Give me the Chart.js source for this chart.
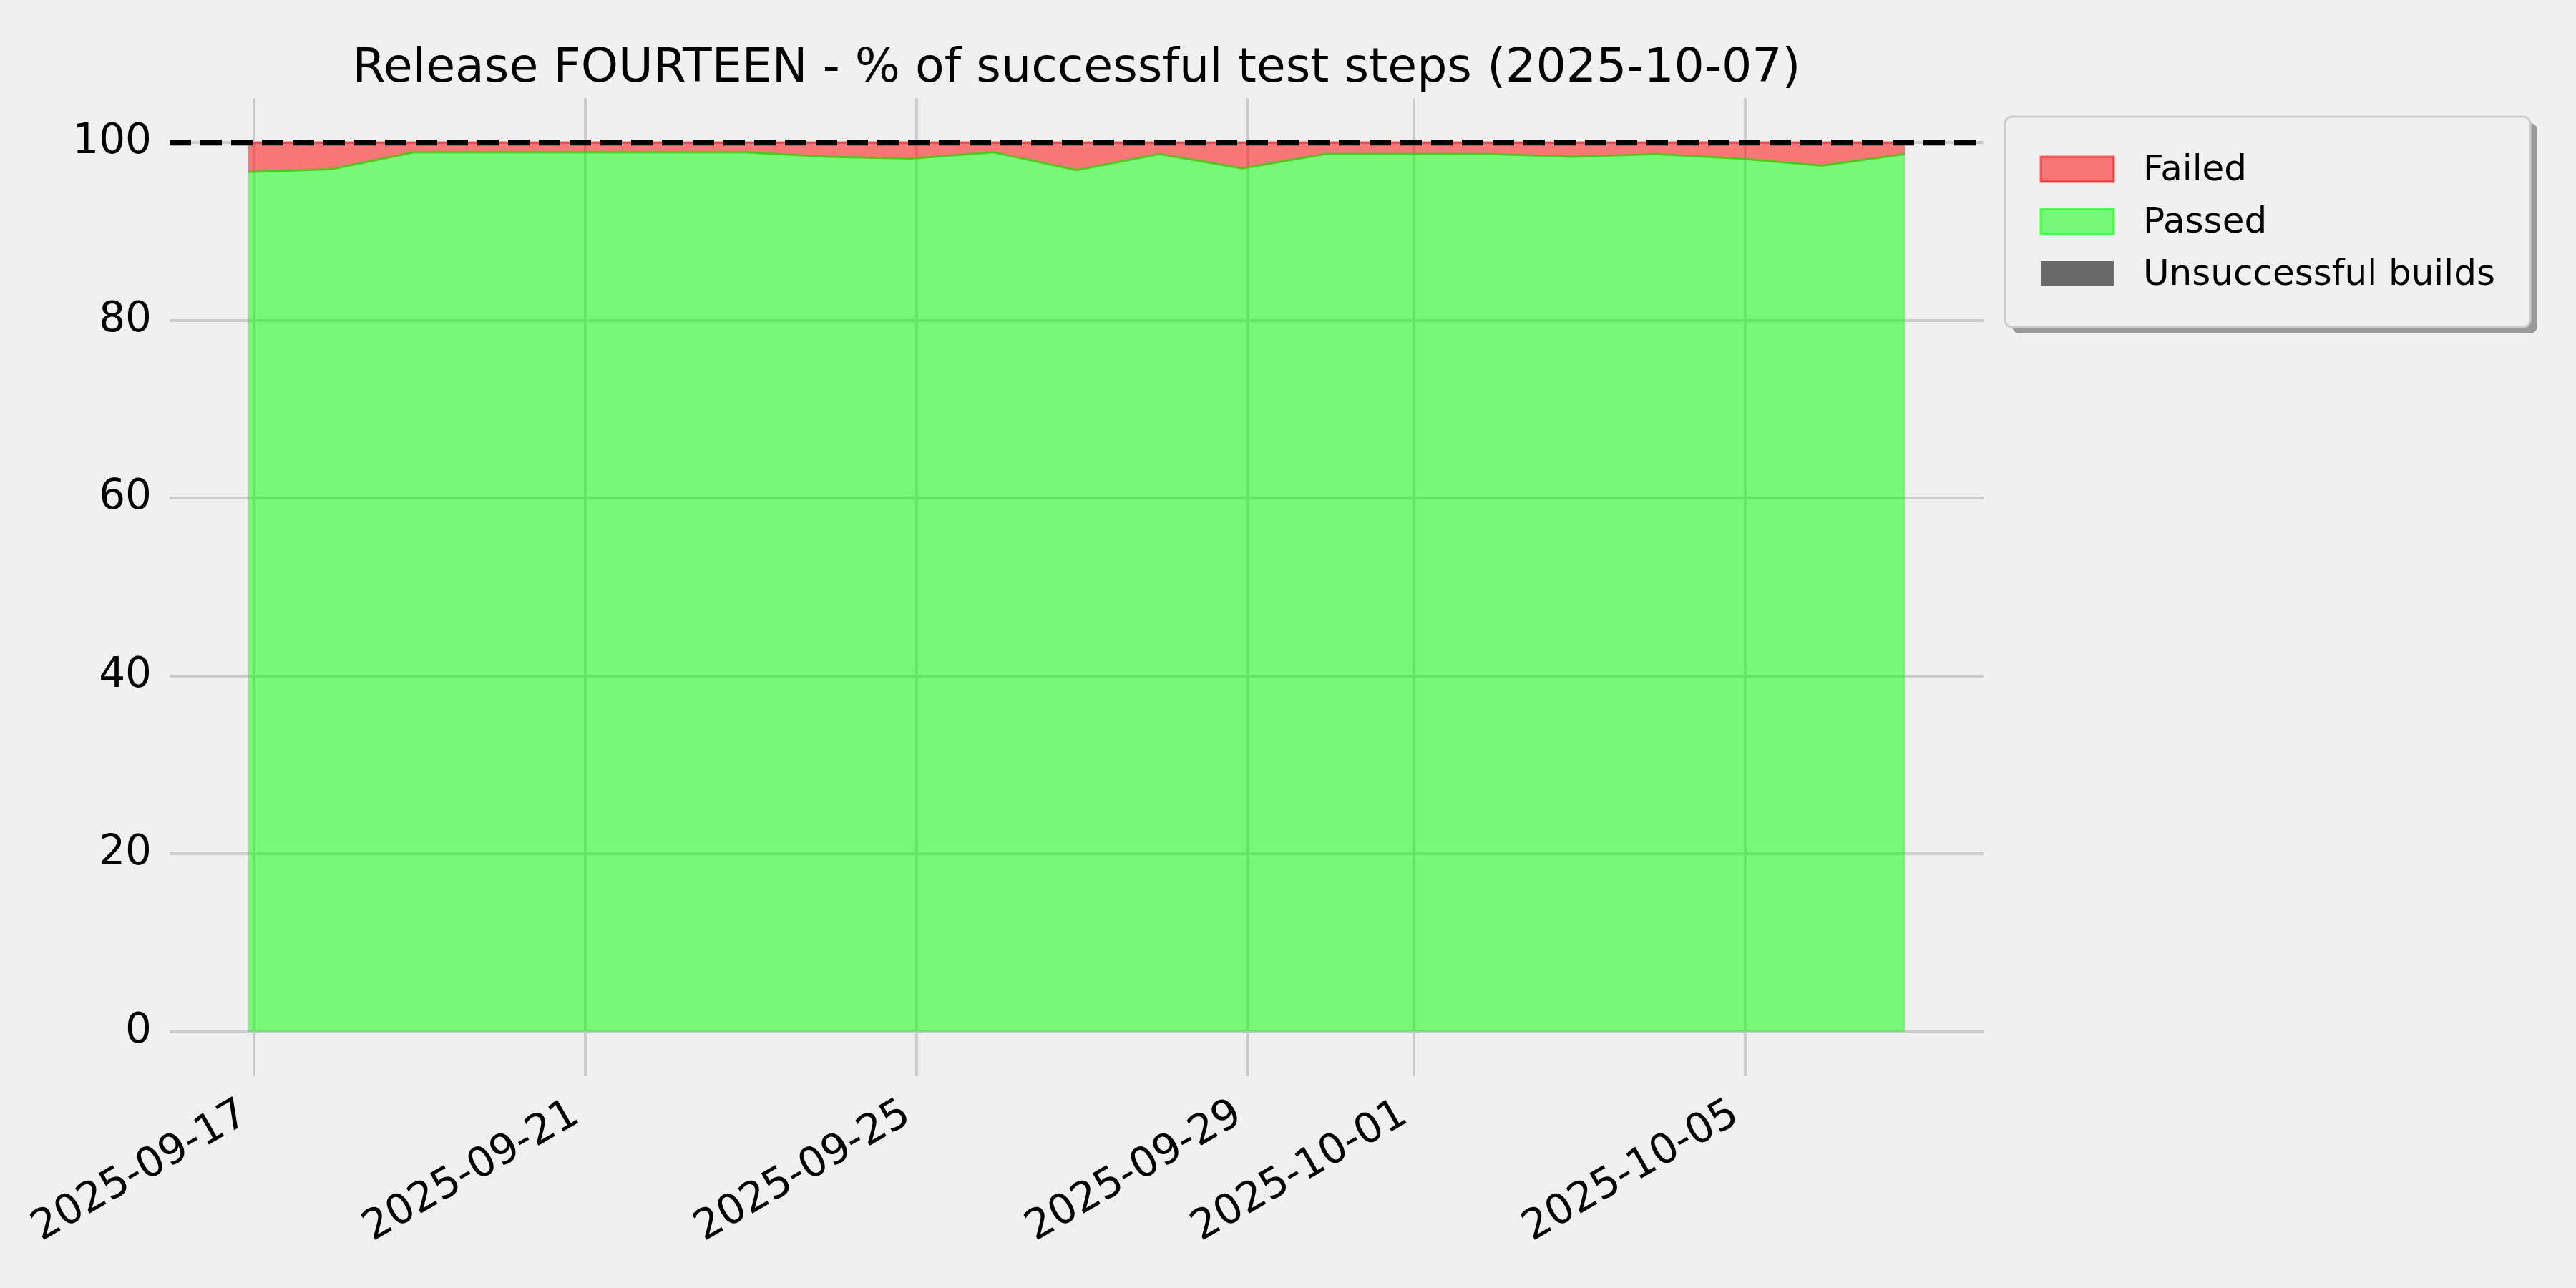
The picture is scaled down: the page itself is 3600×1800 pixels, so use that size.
<!DOCTYPE html>
<html>
<head>
<meta charset="utf-8">
<title>Release FOURTEEN - % of successful test steps</title>
<script src="https://cdn.jsdelivr.net/npm/chart.js@4.4.1/dist/chart.umd.min.js"></script>
<style>
  html, body { margin: 0; padding: 0; background: #f0f0f0; }
  #chart-id { display: block; }
</style>
</head>
<body>
<canvas id="chart-id" width="3600" height="1800"></canvas>
<script>
'use strict';

var chartTitle = 'Release FOURTEEN - % of successful test steps (2025-10-07)';

var runDates = ['2025-09-17', '2025-09-18', '2025-09-19', '2025-09-20', '2025-09-21', '2025-09-22', '2025-09-23',
  '2025-09-24', '2025-09-25', '2025-09-26', '2025-09-27', '2025-09-28', '2025-09-29', '2025-09-30',
  '2025-10-01', '2025-10-02', '2025-10-03', '2025-10-04', '2025-10-05', '2025-10-06', '2025-10-07'];

// % of passed steps per run
var passedValues = [96.7, 97.0, 98.9, 98.9, 98.9, 98.9, 98.9,
  98.4, 98.2, 98.9, 96.9, 98.7, 97.1, 98.7,
  98.7, 98.7, 98.4, 98.7, 98.2, 97.4, 98.7];

// no broken builds in this period
var unsuccessfulValues = [0, 0, 0, 0, 0, 0, 0, 0, 0, 0, 0, 0, 0, 0, 0, 0, 0, 0, 0, 0, 0];

var failedValues = passedValues.map(function(p){ return +(100 - p).toFixed(2); });

var xTickLabels = ['2025-09-17', '2025-09-21', '2025-09-25', '2025-09-29', '2025-10-01', '2025-10-05'];
var yTickValues = [0, 20, 40, 60, 80, 100];
var targetValue = 100;

// runs are stamped a little before midnight, so the points sit just left of the date ticks
var runOffset = -0.07;

var fontName = '"DejaVu Sans", "Liberation Sans", sans-serif';

function dayNumber(str){
  return Date.parse(str + 'T00:00:00Z') / 86400000;
}

function toPoints(values){
  var pts = [];
  for(var i = 0; i < values.length; i++){
    pts.push({x: dayNumber(runDates[i]) + runOffset, y: values[i]});
  }
  return pts;
}

var firstX = dayNumber(runDates[0]) + runOffset;
var lastX = dayNumber(runDates[runDates.length - 1]) + runOffset;

// background, title, the dashed 100% line and the framed legend
var decorPlugin = {
  id: 'decor',
  beforeDraw: function(chart){
    var ctx = chart.ctx;
    ctx.save();
    ctx.fillStyle = '#f0f0f0';
    ctx.fillRect(0, 0, chart.width, chart.height);
    ctx.restore();
  },
  afterDatasetsDraw: function(chart){
    var ctx = chart.ctx;
    var area = chart.chartArea;
    var y = chart.scales.y.getPixelForValue(targetValue);
    ctx.save();
    ctx.strokeStyle = '#000000';
    ctx.lineWidth = 8.3;
    ctx.setLineDash([30, 13]);
    ctx.beginPath();
    ctx.moveTo(area.left, y);
    ctx.lineTo(area.right, y);
    ctx.stroke();
    ctx.restore();
  },
  afterDraw: function(chart){
    var ctx = chart.ctx;
    var area = chart.chartArea;

    // title
    ctx.save();
    ctx.fillStyle = '#000000';
    ctx.font = '66.5px ' + fontName;
    ctx.textAlign = 'center';
    ctx.textBaseline = 'alphabetic';
    ctx.fillText(chartTitle, (area.left + area.right) / 2, 114);
    ctx.restore();

    // legend box with a drop shadow
    var bx = area.right + 30;
    var by = area.top + 26;
    var bw = 734;
    var bh = 294;
    ctx.save();
    ctx.fillStyle = '#9a9a9a';
    ctx.beginPath();
    ctx.roundRect(bx + 10, by + 9, bw, bh, 10);
    ctx.fill();
    ctx.fillStyle = '#f0f0f0';
    ctx.strokeStyle = '#cccccc';
    ctx.lineWidth = 3;
    ctx.beginPath();
    ctx.roundRect(bx, by, bw, bh, 10);
    ctx.fill();
    ctx.stroke();

    var order = [2, 1, 0];
    ctx.font = '50px ' + fontName;
    ctx.textBaseline = 'middle';
    for(var i = 0; i < order.length; i++){
      var ds = chart.data.datasets[order[i]];
      var py = by + 56 + i * 73;
      ctx.fillStyle = '#f0f0f0';
      ctx.fillRect(bx + 50, py, 102, 35);
      ctx.fillStyle = ds.legendFill;
      ctx.fillRect(bx + 50, py, 102, 35);
      if(ds.legendEdge){
        ctx.strokeStyle = ds.legendEdge;
        ctx.lineWidth = 3;
        ctx.strokeRect(bx + 50, py, 102, 35);
      }
      ctx.fillStyle = '#000000';
      ctx.fillText(ds.label, bx + 193, py + 20);
    }
    ctx.restore();
  }
};

var ctx = document.getElementById('chart-id').getContext('2d');
var chart = new Chart(ctx, {
  type: 'line',
  data: {
    datasets: [
      {
        label: 'Unsuccessful builds',
        data: toPoints(unsuccessfulValues),
        backgroundColor: 'rgba(105, 105, 105, 1)',
        borderWidth: 0,
        fill: 'origin',
        legendFill: '#6a6a6a',
        legendEdge: null
      },
      {
        label: 'Passed',
        data: toPoints(passedValues),
        backgroundColor: 'rgba(0, 255, 0, 0.5)',
        borderColor: 'rgba(70, 200, 20, 0.9)',
        borderWidth: 3,
        fill: '-1',
        legendFill: 'rgba(0, 255, 0, 0.5)',
        legendEdge: 'rgba(0, 255, 0, 0.6)'
      },
      {
        label: 'Failed',
        data: toPoints(failedValues),
        backgroundColor: 'rgba(255, 0, 0, 0.5)',
        borderColor: 'rgba(240, 60, 60, 0.8)',
        borderWidth: 3,
        fill: '-1',
        legendFill: 'rgba(255, 0, 0, 0.5)',
        legendEdge: 'rgba(255, 0, 0, 0.6)'
      }
    ]
  },
  options: {
    responsive: false,
    animation: false,
    devicePixelRatio: 1,
    layout: {
      padding: {left: 0, top: 137, right: 828, bottom: 0}
    },
    elements: {
      point: {radius: 0},
      line: {tension: 0}
    },
    plugins: {
      legend: {display: false},
      title: {display: false},
      tooltip: {enabled: false}
    },
    scales: {
      x: {
        type: 'linear',
        min: firstX - 0.95,
        max: lastX + 0.95,
        border: {display: false},
        grid: {color: '#cbcbcb', lineWidth: 4, drawTicks: false, tickLength: 0},
        afterBuildTicks: function(scale){
          scale.ticks = xTickLabels.map(function(l){ return {value: dayNumber(l)}; });
        },
        afterFit: function(scale){
          scale.height = 296;
        },
        ticks: {
          autoSkip: false,
          minRotation: 30,
          maxRotation: 30,
          padding: 19,
          labelOffset: -13,
          color: '#000000',
          font: {family: fontName, size: 58},
          callback: function(value, index){
            return xTickLabels[index];
          }
        }
      },
      y: {
        stacked: true,
        min: -5,
        max: 105,
        border: {display: false},
        grid: {color: '#cbcbcb', lineWidth: 4, drawTicks: false, tickLength: 0},
        afterBuildTicks: function(scale){
          scale.ticks = yTickValues.map(function(v){ return {value: v}; });
        },
        afterFit: function(scale){
          scale.width = 237;
        },
        ticks: {
          padding: 25,
          color: '#000000',
          font: {family: fontName, size: 58},
          callback: function(value){
            return String(value);
          }
        }
      }
    }
  },
  plugins: [decorPlugin]
});
</script>
</body>
</html>
